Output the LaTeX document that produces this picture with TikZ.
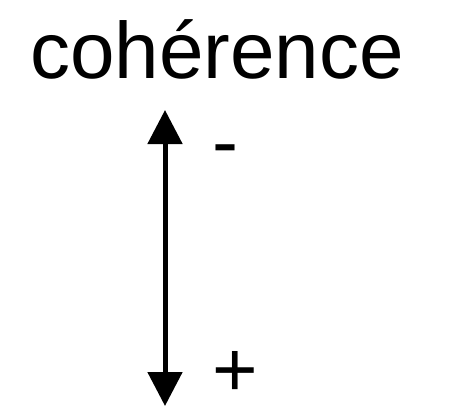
\documentclass[tikz,border=0pt]{standalone}
\usepackage{fontspec}
\setmainfont{Liberation Sans}
\usetikzlibrary{arrows.meta,positioning}

\begin{document}
\begin{tikzpicture}[x=1pt, y=-1pt, every node/.style={font=\fontsize{78}{80}\selectfont, inner sep=0pt},
        axis/.style={line width=5pt, black, {Triangle[length=34pt,width=34pt]}-{Triangle[length=34pt,width=34pt]}},
        sign/.style={anchor=base}
      ]
        % Feste Bounding-Box
        \useasboundingbox (0,0) rectangle (471,410);

        % Titel
        \node[anchor=base, font=\fontsize{80}{82}\selectfont] (titel) at (217,78) {cohérence};

        % Endpunkte der Achse
        \coordinate (oben) at (165,110);
        \coordinate (unten) at (165,406);

        % Achse
        \draw[axis] (oben) -- (unten);

        % Vorzeichen
        \node[sign] (minus) at (225,168) {-};
        \node[sign] (plus) at (235,396) {+};
      \end{tikzpicture}
\end{document}
